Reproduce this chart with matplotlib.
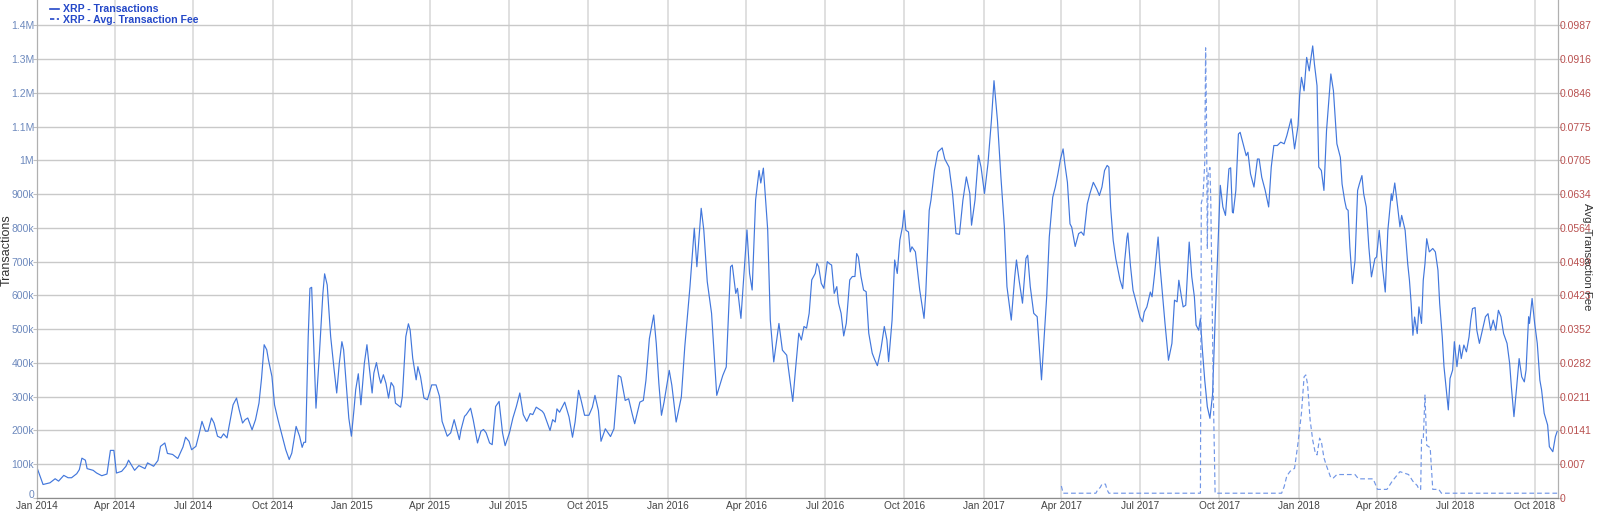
import matplotlib
matplotlib.use("Agg")
import matplotlib.pyplot as plt
import matplotlib.dates as mdates
from matplotlib.lines import Line2D
from matplotlib.transforms import ScaledTranslation
import numpy as np
import pandas as pd

START = "2014-01-01"
END_DAY = 1761

# XRP - Transactions (day offset from 2014-01-01, thousands)
tx_day = [0, 7, 15, 21, 25, 31, 36, 40, 46, 49, 52, 56, 58, 65, 69, 75, 81, 85, 89, 92, 98, 103, 106, 109, 113, 118,
          125, 128, 135, 140, 143, 148, 151, 157, 163, 169, 172, 176, 179, 184, 188, 191, 195, 198, 202, 205, 209,
          213, 216, 220, 222, 227, 231, 234, 238, 241, 244, 249, 253, 257, 260, 263, 266, 268, 272, 275, 279, 284,
          288, 292, 295, 300, 304, 307, 309, 311, 314, 316, 318, 320, 323, 327, 331, 333, 336, 340, 344, 347, 350,
          353, 355, 358, 361, 364, 367, 369, 372, 375, 379, 382, 385, 388, 390, 393, 396, 398, 401, 404, 407, 410,
          413, 415, 421, 423, 427, 430, 432, 435, 439, 441, 444, 448, 452, 457, 462, 466, 469, 475, 479, 483, 489,
          491, 495, 497, 502, 505, 510, 514, 517, 520, 524, 527, 531, 535, 539, 542, 547, 551, 555, 559, 563, 567,
          571, 574, 578, 585, 587, 594, 597, 600, 602, 605, 607, 611, 616, 620, 623, 627, 630, 634, 639, 643, 646,
          650, 653, 658, 664, 668, 673, 676, 681, 685, 689, 692, 698, 702, 705, 709, 714, 717, 720, 723, 726, 732,
          735, 740, 746, 750, 753, 756, 761, 764, 769, 772, 776, 781, 787, 790, 794, 798, 803, 805, 809, 811, 815,
          822, 825, 828, 832, 836, 838, 841, 846, 849, 853, 859, 863, 868, 875, 878, 882, 885, 888, 891, 894, 897,
          901, 903, 905, 908, 911, 915, 918, 920, 923, 926, 928, 931, 934, 937, 941, 944, 947, 949, 951, 954, 957,
          960, 963, 967, 970, 973, 977, 981, 984, 986, 990, 993, 996, 999, 1002, 1004, 1006, 1009, 1011, 1013,
          1017, 1022, 1027, 1029, 1033, 1035, 1039, 1043, 1048, 1051, 1056, 1060, 1064, 1068, 1072, 1076, 1080,
          1082, 1086, 1090, 1093, 1097, 1101, 1105, 1108, 1112, 1116, 1120, 1123, 1128, 1132, 1134, 1137, 1141,
          1145, 1147, 1150, 1154, 1158, 1163, 1169, 1172, 1176, 1179, 1182, 1185, 1188, 1190, 1193, 1196, 1198,
          1202, 1206, 1209, 1212, 1216, 1219, 1223, 1227, 1230, 1233, 1236, 1239, 1241, 1243, 1246, 1249, 1254,
          1257, 1259, 1262, 1263, 1266, 1269, 1271, 1274, 1277, 1280, 1282, 1285, 1289, 1291, 1294, 1298, 1300,
          1303, 1306, 1310, 1314, 1317, 1320, 1322, 1325, 1327, 1330, 1334, 1337, 1340, 1342, 1345, 1347, 1349,
          1352, 1355, 1358, 1361, 1364, 1367, 1370, 1373, 1376, 1380, 1382, 1384, 1385, 1388, 1391, 1393, 1397,
          1400, 1402, 1405, 1409, 1413, 1415, 1418, 1422, 1426, 1429, 1432, 1436, 1440, 1444, 1447, 1452, 1456,
          1460, 1462, 1464, 1467, 1470, 1473, 1474, 1477, 1479, 1482, 1484, 1487, 1490, 1493, 1496, 1498, 1501,
          1505, 1509, 1511, 1514, 1516, 1518, 1520, 1523, 1526, 1529, 1531, 1534, 1536, 1539, 1542, 1545, 1549,
          1551, 1554, 1558, 1561, 1564, 1568, 1569, 1572, 1574, 1578, 1580, 1584, 1587, 1589, 1591, 1593, 1595,
          1598, 1600, 1603, 1605, 1607, 1609, 1612, 1616, 1619, 1622, 1624, 1627, 1629, 1631, 1634, 1636, 1639,
          1641, 1644, 1647, 1649, 1652, 1655, 1658, 1660, 1662, 1665, 1667, 1670, 1673, 1677, 1680, 1683, 1686,
          1689, 1692, 1695, 1698, 1702, 1705, 1707, 1710, 1713, 1716, 1719, 1722, 1724, 1727, 1728, 1731, 1734,
          1737, 1740, 1742, 1745, 1749, 1751, 1755, 1758, 1760]
tx_k = [90, 40, 45, 57, 50, 67, 60, 60, 72, 84, 118, 112, 87, 82, 74, 66, 71, 141, 141, 74, 79, 94, 112, 99, 82, 96,
        87, 104, 94, 111, 153, 163, 132, 129, 117, 151, 180, 168, 143, 153, 193, 227, 198, 198, 237, 222, 183,
        178, 190, 178, 207, 276, 296, 262, 222, 232, 237, 202, 232, 281, 355, 454, 439, 409, 360, 276, 232, 183,
        143, 114, 133, 212, 183, 150, 165, 165, 478, 621, 624, 478, 266, 429, 606, 664, 631, 478, 380, 311, 399,
        463, 439, 340, 237, 183, 262, 321, 368, 276, 399, 454, 380, 311, 370, 401, 360, 340, 365, 340, 296, 342,
        330, 281, 269, 301, 478, 516, 498, 414, 350, 389, 360, 296, 291, 335, 335, 301, 227, 183, 193, 232, 173,
        203, 242, 247, 266, 232, 163, 198, 203, 193, 163, 158, 271, 286, 193, 155, 193, 237, 271, 311, 247, 227,
        250, 247, 269, 257, 250, 200, 232, 225, 264, 254, 264, 284, 240, 180, 225, 319, 289, 245, 245, 269, 304,
        259, 168, 205, 182, 205, 363, 358, 289, 294, 250, 220, 284, 289, 348, 472, 542, 457, 339, 245, 284, 378,
        334, 225, 299, 448, 537, 626, 799, 685, 858, 794, 641, 547, 304, 329, 363, 388, 685, 690, 606, 621, 532,
        794, 665, 616, 883, 970, 933, 977, 794, 527, 403, 517, 438, 423, 286, 375, 488, 468, 508, 503, 547, 646,
        665, 695, 685, 636, 621, 700, 693, 690, 606, 626, 577, 547, 480, 518, 646, 656, 656, 724, 714, 656, 616,
        611, 488, 429, 409, 392, 439, 508, 468, 404, 527, 705, 665, 764, 803, 852, 793, 788, 729, 744,
        729, 616, 532, 606, 852, 882, 970, 1025, 1037, 1004, 980, 902, 783, 781, 882, 951, 902,
        808, 882, 1015, 980, 902, 990, 1118, 1236, 1118, 951, 803, 626, 527, 655, 705, 646, 577,
        710, 719, 626, 547, 537, 350, 596, 773, 891, 921, 960, 1004, 1034, 990, 935, 812, 802,
        745, 783, 788, 778, 871, 901, 935, 915, 896, 921, 970, 985, 980, 862, 763, 709, 645,
        620, 694, 773, 785, 688, 615, 596, 566, 536, 522, 551, 566, 610, 596, 665, 773, 694,
        605, 517, 408, 458, 586, 581, 645, 596, 566, 571, 758, 655, 596, 512, 497, 532, 448,
        349, 270, 236, 305, 527, 724, 926, 862, 837, 975, 978, 847, 844, 911, 1078, 1083, 1044,
        1014, 1024, 960, 921, 1004, 1004, 950, 911, 862, 980, 1044, 1044, 1054, 1049, 1073, 1123, 1034,
        1103, 1197, 1246, 1206, 1305, 1265, 1285, 1339, 1285, 1221, 980, 970, 911, 1088, 1187, 1256, 1206,
        1049, 1009, 930, 881, 857, 852, 743, 635, 704, 911, 930, 955, 901, 862, 743, 655, 709,
        714, 793, 679, 610, 793, 901, 881, 933, 891, 803, 837, 793, 694, 645, 576, 482, 536,
        487, 566, 517, 645, 694, 768, 729, 739, 729, 675, 576, 477, 389, 339, 261, 354, 379,
        463, 389, 453, 413, 453, 433, 477, 527, 561, 564, 497, 458, 492, 537, 546, 497, 527,
        497, 556, 537, 487, 458, 399, 330, 241, 325, 413, 359, 344, 379, 537, 517, 591, 517,
        458, 349, 320, 251, 216, 152, 137, 182, 197]

# XRP - Avg. Transaction Fee (day offset, fee)
fee_day = [1186, 1188, 1226, 1228, 1231, 1233, 1237, 1239, 1241, 1347, 1348, 1350, 1352, 1353, 1354, 1355,
           1356, 1358, 1359, 1361, 1362, 1364, 1441, 1444, 1447, 1451, 1456, 1460, 1464, 1467, 1469, 1471, 1474,
           1477, 1480, 1482, 1485, 1487, 1490, 1493, 1498, 1501, 1505, 1526, 1530, 1547, 1552, 1563, 1569, 1578,
           1588, 1593, 1598, 1600, 1602, 1603, 1605, 1607, 1609, 1613, 1616, 1623, 1626, 1760]
fee_val = [0.0025, 0.0010, 0.0010, 0.0017, 0.0022, 0.0029, 0.0029, 0.0017, 0.0010, 0.0010, 0.0616, 0.0630,
           0.0700, 0.0940, 0.0800, 0.0520, 0.0680, 0.0690, 0.0620, 0.0350, 0.0210, 0.0010, 0.0010, 0.0024,
           0.0046, 0.0056, 0.0062, 0.0115, 0.0178, 0.0253, 0.0257, 0.0238, 0.0163, 0.0121, 0.0094, 0.0090,
           0.0125, 0.0118, 0.0084, 0.0067, 0.0042, 0.0042, 0.0049, 0.0049, 0.0040, 0.0040, 0.0018, 0.0018,
           0.0035, 0.0055, 0.0049, 0.0035, 0.0026, 0.0018, 0.0018, 0.0122, 0.0122, 0.0215, 0.0110, 0.0105,
           0.0018, 0.0018, 0.0010, 0.0010]

left_ticks = [0, 100e3, 200e3, 300e3, 400e3, 500e3, 600e3, 700e3, 800e3, 900e3, 1e6, 1.1e6, 1.2e6, 1.3e6, 1.4e6]
left_labels = ["0", "100k", "200k", "300k", "400k", "500k", "600k", "700k", "800k", "900k",
               "1M", "1.1M", "1.2M", "1.3M", "1.4M"]
right_labels = ["0", "0.007", "0.0141", "0.0211", "0.0282", "0.0352", "0.0423", "0.0493", "0.0564",
                "0.0634", "0.0705", "0.0775", "0.0846", "0.0916", "0.0987"]
right_max = 0.0987

start = pd.Timestamp(START)
tx_dates = start + pd.to_timedelta(tx_day, unit="D")
fee_dates = start + pd.to_timedelta(fee_day, unit="D")
tx = np.array(tx_k) * 1000.0

LINE = "#4277dc"
FEE = "#7196e6"
LEFTC = "#6d89bd"
RIGHTC = "#b8504f"
SANS = ["Liberation Sans", "DejaVu Sans"]

fig = plt.figure(figsize=(16, 5.12), dpi=100)
ax = fig.add_axes([37 / 1600, 1 - 498 / 512, (1558 - 37) / 1600, 498 / 512])
ax2 = ax.twinx()

ymax = 1.475e6
ax.set_ylim(0, ymax)
ax2.set_ylim(0, right_max * ymax / 1.4e6)
ax.set_xlim(start, start + pd.Timedelta(days=END_DAY))

ax.plot(tx_dates, tx, color=LINE, lw=0.85, zorder=3)
ax2.plot(fee_dates, fee_val, color=FEE, lw=0.85, ls=(0, (4, 2.5)), zorder=3)

ax.set_yticks(left_ticks)
ax.set_yticklabels(left_labels)
ax2.set_yticks([right_max * i / 14 for i in range(15)])
ax2.set_yticklabels(right_labels)

ax.xaxis.set_major_locator(mdates.MonthLocator(bymonth=[1, 4, 7, 10]))
ax.xaxis.set_major_formatter(mdates.DateFormatter("%b %Y"))

ax.grid(axis="y", color="#c9c9c9", lw=1.0)
ax.grid(axis="x", color="#dddddd", lw=1.3)
ax.set_axisbelow(True)

for a in (ax, ax2):
    a.spines["top"].set_visible(False)
    a.spines["left"].set_color("#b0b0b0")
    a.spines["right"].set_color("#b0b0b0")
    a.spines["bottom"].set_color("#8c8c8c")

ax.tick_params(axis="y", colors="#c0c0c0", labelcolor=LEFTC, labelsize=7.5, length=3, pad=-1)
ax2.tick_params(axis="y", colors="#c0c0c0", labelcolor=RIGHTC, labelsize=7.5, length=3, pad=-2)
ax.tick_params(axis="x", colors="#dddddd", labelcolor="#444444", labelsize=7.3, length=2, pad=0.5)
for lbl in ax.get_xticklabels():
    lbl.set_fontfamily(["Liberation Sans Narrow", "Liberation Sans", "DejaVu Sans"])
for lbl in ax.get_yticklabels() + ax2.get_yticklabels():
    lbl.set_fontfamily(SANS)

# raise the left "0" label slightly above the axis line, as in the reference
zero_lbl = ax.get_yticklabels()[0]
zero_lbl.set_transform(zero_lbl.get_transform() + ScaledTranslation(0, 4 / 100, fig.dpi_scale_trans))

fig.text(7 / 1600, 1 - 250 / 512, "Transactions", rotation=90, ha="center", va="center",
         fontsize=9, color="#333333", fontfamily=SANS)
fig.text(1587 / 1600, 1 - 257 / 512, "Avg. Transaction Fee", rotation=270, ha="center", va="center",
         fontsize=8.2, color="#333333", fontfamily=SANS)

handles = [Line2D([], [], color="#2448c8", lw=1.2),
           Line2D([], [], color="#2448c8", lw=1.2, ls=(0, (2.6, 1.5)))]
leg = ax.legend(handles, ["XRP - Transactions", "XRP - Avg. Transaction Fee"], loc="upper left",
                bbox_to_anchor=(0.0045, 1.004), frameon=False, handlelength=0.8,
                handletextpad=0.45, labelspacing=0.05, borderaxespad=0.2,
                prop={"family": SANS, "size": 7.6, "weight": "bold"})
for t in leg.get_texts():
    t.set_color("#2448c8")
leg.set_zorder(10)

fig.savefig("out.png", dpi=100)
